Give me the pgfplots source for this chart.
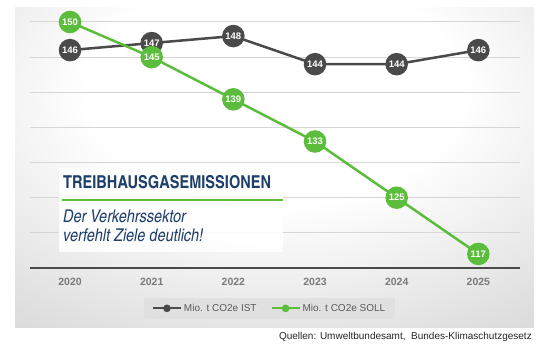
\documentclass[border=0pt]{standalone}
\usepackage{pgfplots}
\pgfplotsset{compat=1.18}
\usepackage{fontspec}
\setmainfont{Liberation Sans}
\newfontfamily\cond{texgyreheroscn}[Extension=.otf, UprightFont=*-regular, BoldFont=*-bold, ItalicFont=*-italic, BoldItalicFont=*-bolditalic]
\definecolor{ist}{HTML}{4A4A4A}
\definecolor{soll}{HTML}{5CBD3C}
\definecolor{navy}{HTML}{1F3F6B}
\definecolor{gridc}{HTML}{D6D6D6}
\definecolor{bggray}{HTML}{C2C2C2}
\definecolor{ticklab}{HTML}{7A7A7A}
\definecolor{legfill}{HTML}{E0E0E0}
\definecolor{legtext}{HTML}{5A5A5A}
\pgfdeclareradialshading{panel}{\pgfpoint{0bp}{15bp}}{color(0bp)=(white); color(18bp)=(white); color(58bp)=(bggray); color(100bp)=(bggray)}
\begin{document}
\begin{tikzpicture}[x=1pt,y=1pt]
\fill[white] (0,0) rectangle (544,351);
\shade[shading=panel] (15,23) rectangle (534,343);
\begin{axis}[
  at={(30pt,83pt)}, anchor=south west, scale only axis,
  width=490pt, height=246pt,
  xmin=-0.49, xmax=5.51, ymin=115, ymax=150,
  clip=false,
  /pgf/number format/assume math mode=true,
  axis x line*=bottom, axis y line*=left,
  y axis line style={draw=none},
  x axis line style={ist, line width=2pt},
  ytick={120,125,...,150}, yticklabels={},
  ymajorgrids, grid style={gridc, line width=1pt},
  xtick={0,1,2,3,4,5}, xticklabels={2020,2021,2022,2023,2024,2025},
  major tick length=0pt,
  xticklabel style={font=\bfseries\fontsize{10.5}{11}\selectfont, text=ticklab, yshift=-7pt},
  legend columns=2,
  legend style={at={(0.489,-0.164)}, anchor=center, draw=none, fill=legfill,
    font=\fontsize{10}{10}\selectfont, text=legtext, inner xsep=8pt, inner ysep=4pt,
    /tikz/every even column/.append style={column sep=12pt}},
  nodes near coords,
  every node near coord/.append style={anchor=center, text=white, font=\bfseries\fontsize{9.5}{9.5}\selectfont},
]
\addplot[ist, line width=2.5pt, mark=*, mark size=10pt, mark options={fill=ist, draw=ist},
  legend image code/.code={\draw[ist, line width=2pt] (0pt,0pt)--(28pt,0pt); \fill[ist] (14pt,0pt) circle (2.5pt);}]
  coordinates {(0,146)(1,147)(2,148)(3,144)(4,144)(5,146)};
\addlegendentry{Mio. t CO2e IST}
\addplot[soll, line width=2.5pt, mark=*, mark size=10pt, mark options={fill=soll, draw=soll},
  legend image code/.code={\draw[soll, line width=2pt] (0pt,0pt)--(28pt,0pt); \fill[soll] (14pt,0pt) circle (2.5pt);}]
  coordinates {(0,150)(1,145)(2,139)(3,133)(4,125)(5,117)};
\addlegendentry{Mio. t CO2e SOLL}
\end{axis}
\fill[white, opacity=0.88] (59,99) rectangle (283,183);
\draw[soll, line width=2pt] (62,151)--(283,151);
\node[anchor=base west, inner sep=0, text=navy, font=\cond\bfseries\fontsize{17.8}{18}\selectfont] at (63,162) {TREIBHAUSGASEMISSIONEN};
\node[anchor=base west, inner sep=0, text=navy, font=\cond\itshape\fontsize{17.6}{18}\selectfont] at (63,128) {Der Verkehrssektor};
\node[anchor=base west, inner sep=0, text=navy, font=\cond\itshape\fontsize{17.6}{18}\selectfont] at (63,109) {verfehlt Ziele deutlich!};
\node[anchor=base east, inner sep=0, font=\fontsize{10}{10}\selectfont, text=black!85] at (532,12) {Quellen: Umweltbundesamt,\ \ Bundes-Klimaschutzgesetz};
\end{tikzpicture}
\end{document}
